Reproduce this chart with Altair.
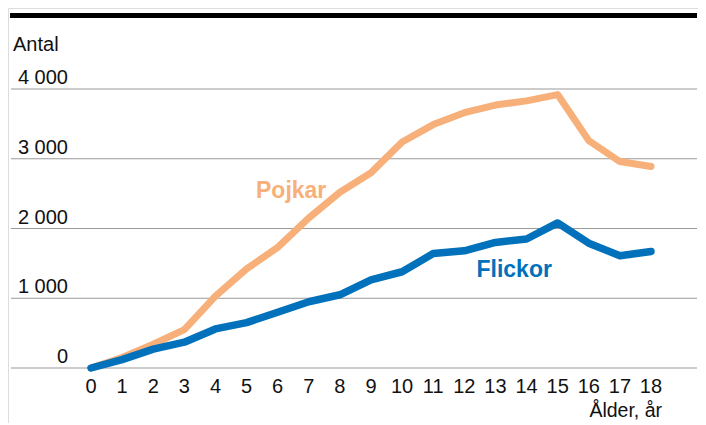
import altair as alt
import pandas as pd

ages = list(range(19))
pojkar = [0, 150, 340, 550, 1030, 1420, 1730, 2150, 2520, 2800, 3240, 3490, 3660, 3770, 3830, 3920, 3260, 2960, 2890]
flickor = [0, 120, 270, 370, 560, 650, 800, 950, 1050, 1265, 1380, 1640, 1680, 1800, 1850, 2080, 1790, 1610, 1670]
y_ticks = [0, 1000, 2000, 3000, 4000]
y_tick_labels = ["0", "1 000", "2 000", "3 000", "4 000"]

FONT = "Liberation Sans"
ORANGE = "#F8B07A"
BLUE = "#0071BA"

H = 415
df = pd.DataFrame({"age": ages, "Pojkar": pojkar, "Flickor": flickor})
ticks = pd.DataFrame({"v": y_ticks, "label": y_tick_labels})
xt = pd.DataFrame({"age": ages, "label": [str(a) for a in ages]})

px_per = 279 / 4000.0
xs = alt.Scale(domain=[-2.668, 19.511], nice=False, zero=False)
ys = alt.Scale(domain=[-(H - 360) / px_per, 360 / px_per], nice=False, zero=False)

grid = alt.Chart(ticks).mark_rule(color="#9a9a9a", strokeWidth=1.2).encode(
    y=alt.Y("v:Q", scale=ys, axis=None),
    x=alt.value(3), x2=alt.value(689),
)
ylab = alt.Chart(ticks).mark_text(
    font=FONT, fontSize=20, align="right", baseline="alphabetic", dy=-5, color="#111"
).encode(
    y=alt.Y("v:Q", scale=ys, axis=None),
    x=alt.value(60),
    text="label:N",
)
line_p = alt.Chart(df).mark_line(color=ORANGE, strokeWidth=7, strokeCap="round", strokeJoin="round").encode(
    x=alt.X("age:Q", scale=xs, axis=None),
    y=alt.Y("Pojkar:Q", scale=ys, axis=None),
)
line_f = alt.Chart(df).mark_line(color=BLUE, strokeWidth=7.5, strokeCap="round", strokeJoin="round").encode(
    x=alt.X("age:Q", scale=xs, axis=None),
    y=alt.Y("Flickor:Q", scale=ys, axis=None),
)
xlab = alt.Chart(xt).mark_text(
    font=FONT, fontSize=20, align="center", baseline="alphabetic", color="#111"
).encode(
    x=alt.X("age:Q", scale=xs, axis=None),
    y=alt.value(385),
    text="label:N",
)
top_bar = alt.Chart(pd.DataFrame({"a": [0]})).mark_rule(color="black", strokeWidth=5).encode(
    x=alt.value(2), x2=alt.value(689), y=alt.value(7.5)
)
antal = alt.Chart(pd.DataFrame({"t": ["Antal"]})).mark_text(
    font=FONT, fontSize=20, align="left", baseline="alphabetic", color="#111"
).encode(x=alt.value(5), y=alt.value(43), text="t:N")
alder = alt.Chart(pd.DataFrame({"t": ["Ålder, år"]})).mark_text(
    font=FONT, fontSize=19.5, align="right", baseline="alphabetic", color="#111"
).encode(x=alt.value(654), y=alt.value(409), text="t:N")
lab_p = alt.Chart(pd.DataFrame({"t": ["Pojkar"]})).mark_text(
    font=FONT, fontSize=23, fontWeight="bold", align="left", baseline="alphabetic", color=ORANGE
).encode(x=alt.value(248), y=alt.value(190), text="t:N")
lab_f = alt.Chart(pd.DataFrame({"t": ["Flickor"]})).mark_text(
    font=FONT, fontSize=23, fontWeight="bold", align="left", baseline="alphabetic", color=BLUE
).encode(x=alt.value(468.5), y=alt.value(269), text="t:N")

chart = alt.layer(
    grid, ylab, line_p, line_f, xlab, top_bar, antal, alder, lab_p, lab_f
).properties(
    width=690, height=H, padding=0, autosize=alt.AutoSizeParams(type="none")
).configure_view(stroke=None).configure(background="white")

chart.save("out.html", embed_options={"renderer": "svg", "actions": False})
